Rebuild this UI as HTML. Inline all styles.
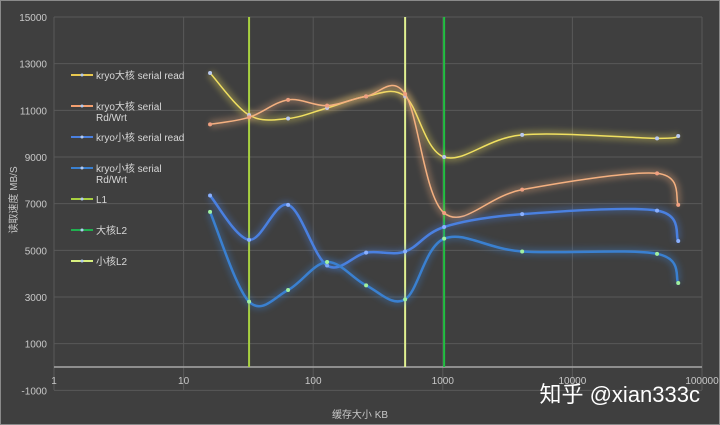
<!DOCTYPE html>
<html><head><meta charset="utf-8"><style>
html,body{margin:0;padding:0;background:#404040;}
svg{display:block;font-family:"Liberation Sans","Noto Sans CJK SC",sans-serif;}
</style></head><body>
<svg id="s" width="720" height="425" viewBox="0 0 720 425" xmlns="http://www.w3.org/2000/svg">
<defs><filter id="g" x="-10%" y="-20%" width="120%" height="140%"><feGaussianBlur stdDeviation="3"/></filter></defs>
<rect x="0" y="0" width="720" height="425" fill="#3f3f3f"/>
<rect x="0.5" y="0.5" width="719" height="424" fill="none" stroke="#8a8a8a"/>
<g id="grid" stroke="#595959" stroke-width="1"></g>
<g id="lbl" fill="#c8c8c8" font-size="10"></g>
<g id="ser"></g>
<g id="leg" font-size="10" fill="#d8d8d8"></g>
<text x="17" y="200" fill="#c8c8c8" font-size="10" transform="rotate(-90 17 200)" text-anchor="middle">读取速度 MB/S</text>
<text x="360" y="418" fill="#c8c8c8" font-size="10" text-anchor="middle">缓存大小 KB</text>
<text x="700" y="402" fill="#ffffff" font-size="22" text-anchor="end">知乎 @xian333c</text>
</svg>
<script>
const NS="http://www.w3.org/2000/svg";
function el(t,a,p){const e=document.createElementNS(NS,t);for(const k in a)e.setAttribute(k,a[k]);p.appendChild(e);return e;}
const X=v=>54+129.6*Math.log10(v), Y=v=>367-v*0.023333;
const grid=document.getElementById('grid'),lbl=document.getElementById('lbl');
for(let v=-1000;v<=15000;v+=2000){el('line',{x1:54,x2:702,y1:Y(v),y2:Y(v)},grid);const t=el('text',{x:47,y:Y(v)+4,'text-anchor':'end'},lbl);t.textContent=v;}
for(let d=0;d<=5;d++){const x=X(Math.pow(10,d));el('line',{x1:x,x2:x,y1:17,y2:390},grid);const t=el('text',{x:x,y:384,'text-anchor':'middle'},lbl);t.textContent=Math.pow(10,d);}
el('line',{x1:54,x2:702,y1:367,y2:367,stroke:'#a8a8a8','stroke-width':1.5},grid);
const xs=[16,32,64,128,256,512,1024,4096,45000,65536];
const S=[
{c:'#f0e060',d:[12600,10800,10650,11100,11600,11600,9000,9950,9800,9900],w:1.5,m:'#b8c8f0'},
{c:'#f4b080',d:[10400,10700,11450,11200,11600,11700,6600,7600,8300,6950],w:1.5,m:'#f0a080'},
{c:'#4a80e0',d:[7350,5450,6950,4350,4900,4950,6000,6550,6700,5400],w:2.5,m:'#8ab0ff'},
{c:'#3a80d0',d:[6650,2800,3300,4500,3500,2900,5500,4950,4850,3600],w:2.5,m:'#a0f0a0'}];
const ser=document.getElementById('ser');
[[32,'#a8d040'],[512,'#e0f090'],[1024,'#20c040']].forEach(([v,c])=>{const x=X(v);
el('line',{x1:x,x2:x,y1:17,y2:367,stroke:c,'stroke-width':6,opacity:.35,filter:'url(#g)'},ser);
el('line',{x1:x,x2:x,y1:17,y2:367,stroke:c,'stroke-width':2},ser);});
function path(p){let d=`M${p[0][0]},${p[0][1]}`;for(let i=0;i<p.length-1;i++){const a=p[i-1]||p[i],b=p[i],c=p[i+1],e=p[i+2]||c;
d+=` C${b[0]+(c[0]-a[0])/6},${b[1]+(c[1]-a[1])/6} ${c[0]-(e[0]-b[0])/6},${c[1]-(e[1]-b[1])/6} ${c[0]},${c[1]}`;}return d;}
S.forEach(s=>{const p=xs.map((x,i)=>[X(x),Y(s.d[i])]);const d=path(p);
el('path',{d,fill:'none',stroke:s.c,'stroke-width':8,opacity:.3,filter:'url(#g)'},ser);
el('path',{d,fill:'none',stroke:s.c,'stroke-width':s.w},ser);
p.forEach(q=>el('circle',{cx:q[0],cy:q[1],r:2,fill:s.m},ser));});
const leg=document.getElementById('leg');
const L=[[75,'#e8c850','kryo大核 serial read'],[106,'#f4a070','kryo大核 serial','Rd/Wrt'],[137,'#4a80e0','kryo小核 serial read'],[168,'#3a80d0','kryo小核 serial','Rd/Wrt'],[199,'#a8d040','L1'],[230,'#20b050','大核L2'],[261,'#d8f080','小核L2']];
L.forEach(([y,c,a,b])=>{el('line',{x1:71,x2:93,y1:y,y2:y,stroke:c,'stroke-width':2},leg);el('circle',{cx:82,cy:y,r:1.5,fill:'#b0c8f0'},leg);
el('text',{x:96,y:y+4},leg).textContent=a;if(b)el('text',{x:96,y:y+15},leg).textContent=b;});
</script>
</body></html>
